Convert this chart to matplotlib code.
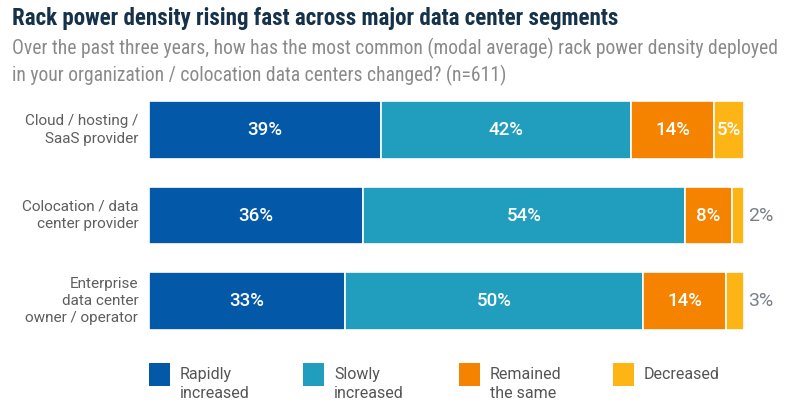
import matplotlib
matplotlib.use("Agg")
import matplotlib.pyplot as plt
from matplotlib import font_manager as fm
from matplotlib.patches import Rectangle

categories = ["Cloud / hosting /\nSaaS provider",
              "Colocation / data\ncenter provider",
              "Enterprise\ndata center\nowner / operator"]
series_names = ["Rapidly\nincreased", "Slowly\nincreased", "Remained\nthe same", "Decreased"]
rapidly = [39, 36, 33]
slowly = [42, 54, 50]
remained = [14, 8, 14]
decreased = [5, 2, 3]
colors = ["#0458A8", "#219DBD", "#F58300", "#FDB415"]

names = {f.name for f in fm.fontManager.ttflist}
def pick(*cands):
    for c in cands:
        if c in names:
            return c
    return "DejaVu Sans"

narrow = pick("Liberation Sans Narrow", "Roboto Condensed", "Open Sans Condensed", "Roboto")
body = pick("Roboto", "Lato", "Liberation Sans")

W, H = 800, 413
fig = plt.figure(figsize=(W / 100, H / 100), dpi=100)
fig.patch.set_facecolor("white")

left, right = 149, 744
top, bottom = 101, 330
ax = fig.add_axes([left / W, 1 - bottom / H, (right - left) / W, (bottom - top) / H])

bar_h = 0.678
series = [rapidly, slowly, remained, decreased]
y = list(range(len(categories)))
lefts = [0] * len(categories)
for vals, col in zip(series, colors):
    ax.barh(y, vals, left=lefts, height=bar_h, color=col,
            edgecolor="white", linewidth=1.2)
    for i, (v, l) in enumerate(zip(vals, lefts)):
        if v >= 5:
            ax.text(l + v / 2, i, f"{v}%", ha="center", va="center",
                    color="white", fontsize=13.5, family=body, fontweight="medium")
        else:
            ax.text(100 + 0.7, i, f"{v}%", ha="left", va="center",
                    color="#7A808A", fontsize=14, family=body)
    lefts = [a + b for a, b in zip(lefts, vals)]

ax.set_xlim(0, 100)
ax.set_ylim(2 + bar_h / 2, -bar_h / 2)
ax.axis("off")

for i, c in enumerate(categories):
    ax.text(-1.8, i, c, ha="right", va="center", color="#5E5E5E",
            fontsize=11, family=body, linespacing=1.3)

fig.text(12 / W, 1 - 19 / H, "Rack power density rising fast across major data center segments",
         ha="left", va="center", color="#16324A", fontsize=16.6, fontweight="bold", family=narrow)
fig.text(12 / W, 1 - 62 / H,
         "Over the past three years, how has the most common (modal average) rack power density deployed\nin your organization / colocation data centers changed? (n=611)",
         ha="left", va="center", color="#8A8A8A", fontsize=14.1, family=narrow, linespacing=1.35)

leg_x = [149, 303, 459, 613]
for lx, name, col in zip(leg_x, series_names, colors):
    fig.add_artist(Rectangle((lx / W, 1 - 386 / H), 21 / W, 23 / H,
                             transform=fig.transFigure, facecolor=col, edgecolor="none"))
    fig.text((lx + 31) / W, 1 - 367 / H, name, ha="left", va="top", color="#555555",
             fontsize=11.5, family=body, linespacing=1.3)

fig.savefig("out.png", dpi=100, facecolor="white")
